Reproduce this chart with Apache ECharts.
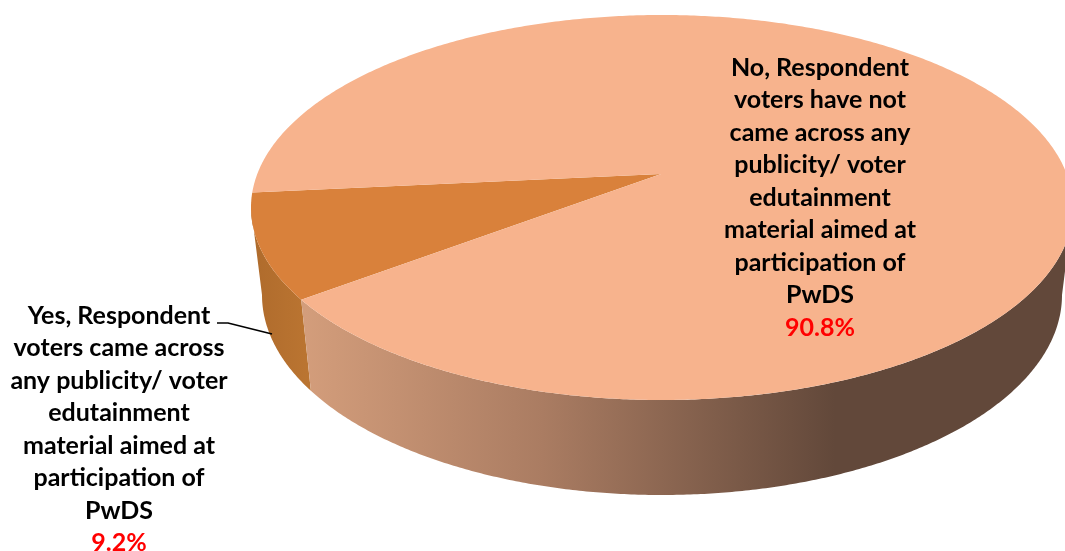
<!DOCTYPE html>
<html>
<head>
<meta charset="utf-8">
<style>
  html, body { margin: 0; padding: 0; background: #fff; }
  #chart { width: 1065px; height: 551px; }
</style>
<script src="https://cdn.jsdelivr.net/npm/echarts@6/dist/echarts.min.js"></script>
</head>
<body>
<div id="chart"></div>
<script>
// Share of respondents, in percent
const shares = [9.2, 90.8];

// Wrapped label text, one entry per slice
const yesLabel = [
  'Yes, Respondent',
  'voters came across',
  'any publicity/ voter',
  'edutainment',
  'material aimed at',
  'participation of',
  'PwDS'
];
const noLabel = [
  'No, Respondent',
  'voters have not',
  'came across any',
  'publicity/ voter',
  'edutainment',
  'material aimed at',
  'participation of',
  'PwDS'
];
const sliceLabels = [yesLabel, noLabel];

// Tilted pie geometry: the top face, its floor outline and the apex seen in perspective
const topFace = { cx: 662, cy: 207.5, rx: 411, ry: 192.5 };
const floorFace = { cx: 662, cy: 295, rx: 400, ry: 200 };
const apex = [661, 174];
const startAngle = 184.5;

const labelBoxes = [
  { x: 119, y: 299.5 },
  { x: 820, y: 51.5 }
];
const leader = [[217, 323], [228, 323], [272, 334]];

const topColors = ['#D9813B', '#F7B38D'];
const wallFills = [
  new echarts.graphic.LinearGradient(252, 0, 316, 0, [
    { offset: 0, color: '#AF6B2C' },
    { offset: 1, color: '#BC7632' }
  ], true),
  new echarts.graphic.LinearGradient(305, 0, 835, 0, [
    { offset: 0, color: '#D39D7B' },
    { offset: 0.45, color: '#AA7C62' },
    { offset: 1, color: '#62483A' }
  ], true)
];

function onEllipse(e, deg) {
  const t = deg * Math.PI / 180;
  return [e.cx + e.rx * Math.cos(t), e.cy + e.ry * Math.sin(t)];
}

function arc(e, from, to) {
  const steps = Math.max(2, Math.ceil(Math.abs(from - to) * 2));
  const pts = [];
  for (let i = 0; i <= steps; i++) {
    pts.push(onEllipse(e, from + (to - from) * i / steps));
  }
  return pts;
}

function sliceSpan(index) {
  const total = shares.reduce((a, b) => a + b, 0);
  const before = shares.slice(0, index).reduce((a, b) => a + b, 0);
  return [
    startAngle - before / total * 360,
    startAngle - (before + shares[index]) / total * 360
  ];
}

function renderSlice(params, api) {
  const i = params.dataIndex;
  const value = api.value(0);
  const [from, to] = sliceSpan(i);
  const children = [];

  // Outer wall: only the part of the rim that faces the viewer
  const wallFrom = Math.min(from, 180);
  const wallTo = Math.max(to, 0);
  if (wallFrom > wallTo) {
    children.push({
      type: 'polygon',
      shape: { points: arc(topFace, wallFrom, wallTo).concat(arc(floorFace, wallTo, wallFrom)) },
      style: { fill: wallFills[i] }
    });
  }

  // Top face
  children.push({
    type: 'polygon',
    shape: { points: [apex].concat(arc(topFace, from, to)) },
    style: { fill: topColors[i] }
  });

  if (i === 0) {
    children.push({
      type: 'polyline',
      shape: { points: leader },
      style: { stroke: '#000', lineWidth: 1.7, fill: null }
    });
  }

  const lines = sliceLabels[i].map(l => '{n|' + l + '}');
  lines.push('{p|' + value.toFixed(1) + '%}');
  children.push({
    type: 'text',
    x: labelBoxes[i].x,
    y: labelBoxes[i].y,
    style: {
      text: lines.join('\n'),
      align: 'center',
      verticalAlign: 'top',
      rich: {
        n: { font: 'bold 25px Lato', fill: '#000', lineHeight: 32.5, align: 'center' },
        p: { font: 'bold 25px Lato', fill: '#FF0000', lineHeight: 32.5, align: 'center' }
      }
    }
  });

  return { type: 'group', children };
}

const chart = echarts.init(document.getElementById('chart'));
chart.setOption({
  animation: false,
  backgroundColor: '#fff',
  series: [{
    type: 'custom',
    coordinateSystem: 'none',
    silent: true,
    data: shares.map(v => [v]),
    renderItem: renderSlice
  }]
});
</script>
</body>
</html>
